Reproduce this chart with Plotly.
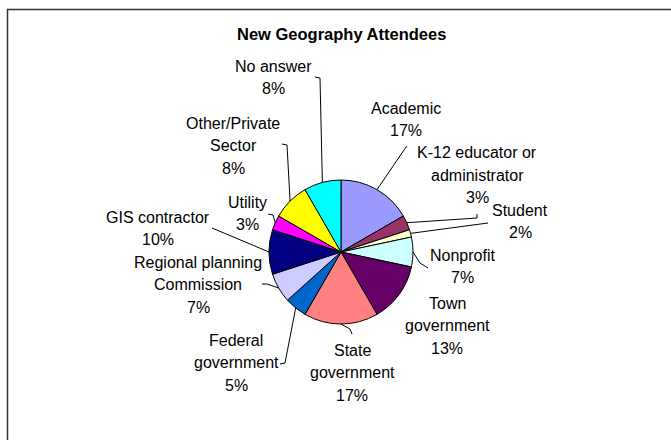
import math
import plotly.graph_objects as go

# ---- data ----
categories = ["Academic", "K-12 educator or administrator", "Student", "Nonprofit",
              "Town government", "State government", "Federal government",
              "Regional planning Commission", "GIS contractor", "Utility",
              "Other/Private Sector", "No answer"]
counts = [10, 2, 1, 4, 8, 10, 3, 4, 6, 2, 5, 5]
label_lines = [["Academic"], ["K-12 educator or", "administrator"], ["Student"], ["Nonprofit"],
               ["Town", "government"], ["State", "government"], ["Federal", "government"],
               ["Regional planning", "Commission"], ["GIS contractor"], ["Utility"],
               ["Other/Private", "Sector"], ["No answer"]]
colors = ["#9999FF", "#993366", "#FFFFCC", "#CCFFFF", "#660066", "#FF8080",
          "#0066CC", "#CCCCFF", "#000080", "#FF00FF", "#FFFF00", "#00FFFF"]

# ---- layout (pixels) ----
W, H = 671, 440
CX, CY, R = 341, 252, 72
# label centre x, first line y, leader elbow points
label_pos = [
    (406, 108, [(404, 150), (407, 146)]),
    (477, 153, [(477, 218), (477, 214)]),
    (520, 210, [(488, 223)]),
    (462, 255, [(420, 263), (428, 268)]),
    (447, 303, []),
    (352, 350, [(350, 329), (352, 334)]),
    (236, 340, [(285, 363), (280, 364)]),
    (198, 262, [(267, 284), (262, 284)]),
    (158, 217, [(212, 228)]),
    (247, 202, [(273, 215), (268, 214)]),
    (233, 123, [(287, 145), (282, 144)]),
    (273, 66, [(320, 78), (315, 77)]),
]
LINE_H = 22.5
FONT = "Liberation Sans, Arial, sans-serif"


def px(x):
    return x / W


def py(y):
    return 1 - y / H


fig = go.Figure(go.Pie(
    labels=categories, values=counts, sort=False, direction="clockwise", rotation=0,
    marker=dict(colors=colors, line=dict(color="black", width=1)),
    textinfo="none", hoverinfo="label+percent", showlegend=False,
    domain=dict(x=[px(CX - R), px(CX + R)], y=[py(CY + R), py(CY - R)]),
))

total = sum(counts)
annotations = []
shapes = []
cum = 0
for i, v in enumerate(counts):
    mid = (cum + v / 2) / total * 2 * math.pi
    cum += v
    pct = f"{round(v / total * 100)}%"
    lx, ly, pts = label_pos[i]
    lines = label_lines[i] + [pct]
    for k, t in enumerate(lines):
        annotations.append(dict(
            x=px(lx), y=py(ly + k * LINE_H), xref="paper", yref="paper",
            text=t, showarrow=False, xanchor="center", yanchor="middle",
            font=dict(family=FONT, size=16, color="black")))
    if pts:
        ex = CX + R * math.sin(mid)
        ey = CY - R * math.cos(mid)
        path_pts = [(ex, ey)] + pts
        d = "M " + " L ".join(f"{px(a)},{py(b)}" for a, b in path_pts)
        shapes.append(dict(type="path", xref="paper", yref="paper", path=d,
                           line=dict(color="black", width=1)))

# outer frame
shapes.append(dict(type="rect", xref="paper", yref="paper",
                   x0=px(7.5), x1=px(700), y0=py(470), y1=py(9.5),
                   line=dict(color="#333333", width=1.5), fillcolor="rgba(0,0,0,0)"))

annotations.append(dict(
    x=px(341), y=py(34), xref="paper", yref="paper", text="<b>New Geography Attendees</b>",
    showarrow=False, xanchor="center", yanchor="middle",
    font=dict(family=FONT, size=16.5, color="black")))

fig.update_layout(
    width=W, height=H, margin=dict(l=0, r=0, t=0, b=0),
    paper_bgcolor="white", plot_bgcolor="white",
    annotations=annotations, shapes=shapes,
)

fig.write_html("out.html", config={"displayModeBar": False},
               post_script="document.body.style.margin='0';document.body.style.overflow='hidden';")
